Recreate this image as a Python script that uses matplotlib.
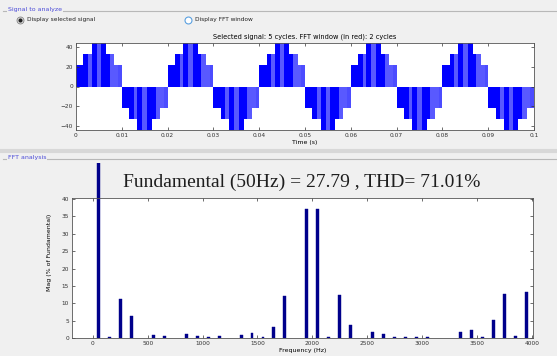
import numpy as np
import matplotlib
matplotlib.use("Agg")
import matplotlib.pyplot as plt
from matplotlib.lines import Line2D
from matplotlib.transforms import Bbox, TransformedBbox

# ---- data ----
# one half cycle of the multilevel PWM signal (ms, level, shade)
half_edges_ms = [0, 0.8, 1.6, 2.6, 3.4, 4.5, 5.5, 6.6, 7.4, 8.4, 9.2, 10]
half_levels = [22, 22, 33, 33, 44, 44, 44, 33, 33, 22, 22]
half_shade = [1.0, 1.0, 1.0, 0.65, 1.0, 0.65, 1.0, 1.0, 0.65, 0.65, 0.7]
n_cycles = 5
period_ms = 20

harm_freq = [50, 150, 250, 350, 550, 650, 850, 950, 1050, 1150, 1350, 1450,
             1550, 1650, 1750, 1950, 2050, 2150, 2250, 2350, 2550, 2650,
             2750, 2850, 2950, 3050, 3350, 3450, 3550, 3650, 3750, 3850, 3950]
harm_mag = [100, 0.2, 11.3, 6.4, 0.9, 0.6, 1.2, 0.6, 0.2, 0.5, 0.8, 1.3,
            0.3, 3.1, 12.1, 37.2, 37.2, 0.2, 12.3, 3.7, 1.8, 1.1,
            0.2, 0.3, 0.2, 0.2, 1.6, 2.3, 0.2, 5.2, 12.6, 0.5, 13.3]

fund_text = "Fundamental (50Hz) = 27.79 , THD= 71.01%"
sig_title = "Selected signal: 5 cycles. FFT window (in red): 2 cycles"

BG = "#f0f0f0"
W, H = 557, 356
fig = plt.figure(figsize=(W / 100, H / 100), dpi=100, facecolor=BG)


def fx(px):
    return px / W


def fy(py):
    return 1 - py / H


# ---- panel frames and labels ----
panel_col = "#4b4bd8"
fig.add_artist(Line2D([fx(3), fx(557)], [fy(11), fy(11)], color="#b8b8b8", lw=0.8))
fig.text(fx(8), fy(10), "Signal to analyze", fontsize=4.5, color=panel_col, va="center",
         bbox=dict(facecolor=BG, edgecolor="none", pad=0.5))
fig.add_artist(Line2D([fx(0), fx(557)], [fy(151), fy(151)], color="#d8d8d8", lw=3))
fig.add_artist(Line2D([fx(3), fx(557)], [fy(159), fy(159)], color="#b8b8b8", lw=0.8))
fig.text(fx(8), fy(158), "FFT analysis", fontsize=4.5, color=panel_col, va="center",
         bbox=dict(facecolor=BG, edgecolor="none", pad=0.5))

# radio buttons
fig.add_artist(Line2D([fx(20)], [fy(20)], marker="o", ms=5, mfc="#e8e8e8", mec="#808080",
                      mew=0.6, transform=fig.transFigure))
fig.add_artist(Line2D([fx(20)], [fy(20)], marker="o", ms=2, mfc="#222222", mec="#222222",
                      transform=fig.transFigure))
fig.text(fx(27), fy(20), "Display selected signal", fontsize=4.2, va="center", color="#222222")
fig.add_artist(Line2D([fx(188)], [fy(20)], marker="o", ms=5, mfc="white", mec="#5aa0e0",
                      mew=0.8, transform=fig.transFigure))
fig.text(fx(195), fy(20), "Display FFT window", fontsize=4.2, va="center", color="#222222")

# ---- top axes: signal ----
ax1 = fig.add_axes([fx(76), fy(130), fx(534) - fx(76), fy(43) - fy(130)])
edges = np.array(half_edges_ms) / 1000.0
for c in range(n_cycles):
    for half, sign in ((0, 1), (1, -1)):
        t0 = (c * period_ms + half * period_ms / 2) / 1000.0
        for i, lvl in enumerate(half_levels):
            a, b = t0 + edges[i], t0 + edges[i + 1]
            ax1.fill_between([a, b], 0, sign * lvl, color="#0000ff",
                             alpha=half_shade[i], lw=0)
ax1.set_xlim(0, 0.1)
ax1.set_ylim(-44, 44)
ax1.set_xticks(np.arange(0, 0.1001, 0.01))
ax1.set_xticklabels(["0"] + [f"{v:.2f}" for v in np.arange(0.01, 0.0951, 0.01)] + ["0.1"])
ax1.set_yticks([-40, -20, 0, 20, 40])
ax1.set_xlabel("Time (s)", fontsize=4.5, labelpad=1.5)
ax1.set_title(sig_title, fontsize=4.8, pad=3)

# ---- bottom axes: FFT ----
ax2 = fig.add_axes([fx(72), fy(338), fx(533) - fx(72), fy(198) - fy(338)])
bars = ax2.bar(harm_freq, harm_mag, width=27, color="#00008b", edgecolor="#00008b", lw=0.3)
ax2.set_xlim(-190, 4010)
ax2.set_ylim(0, 40.3)
ax2.set_xticks(np.arange(0, 4001, 500))
ax2.set_yticks(np.arange(0, 41, 5))
ax2.set_xlabel("Frequency (Hz)", fontsize=4.5, labelpad=1.5)
ax2.set_ylabel("Mag (% of Fundamental)", fontsize=4.5)
ax2.yaxis.set_label_coords(-0.043, 0.61)

# fundamental bar pokes out above the axes up to the title area
clip = TransformedBbox(Bbox([[fx(72), fy(338)], [fx(533), fy(163)]]), fig.transFigure)
for b in bars:
    b.set_clip_box(clip)

fig.text(fx(302), fy(182), fund_text, fontsize=14, family="Liberation Serif",
         ha="center", va="center", color="#1e1e1e")

for ax in (ax1, ax2):
    ax.set_facecolor("white")
    ax.tick_params(direction="in", length=2.5, width=0.5, labelsize=4.2,
                   top=True, right=True, pad=2, colors="#333333")
    for s in ax.spines.values():
        s.set_linewidth(0.6)
        s.set_color("#555555")

fig.savefig("out.png", dpi=100, facecolor=BG)
